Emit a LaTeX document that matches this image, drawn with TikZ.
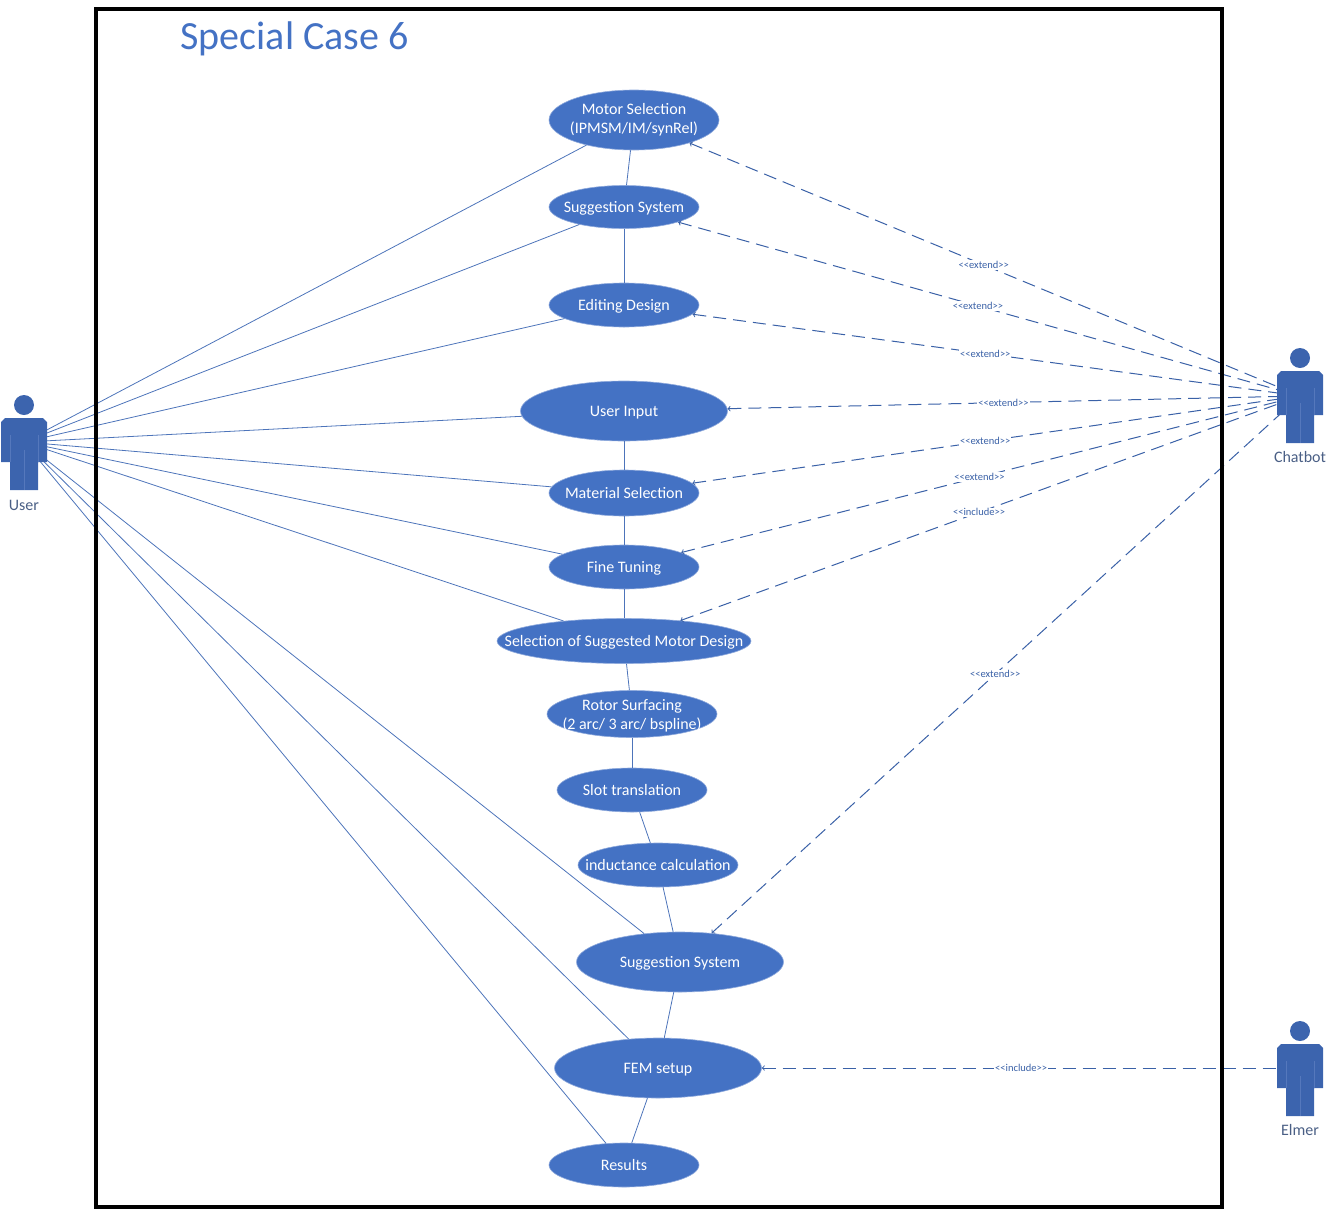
\documentclass[tikz,border=0pt]{standalone}
\usepackage{fontspec}
\setmainfont{Carlito}
\usetikzlibrary{shapes.geometric}
\definecolor{ucblue}{HTML}{4472C4}
\definecolor{ucedge}{HTML}{8FAADC}
\definecolor{actorblue}{HTML}{3C64AE}
\definecolor{actorline}{HTML}{5578BC}
\definecolor{actortext}{HTML}{4A5F85}
\tikzset{
  usecase/.style={ellipse, fill=ucblue, draw=ucedge, line width=0.6pt, inner sep=-60pt,
    text=white, align=center, font=\fontsize{16}{19}\selectfont},
  onerow/.style={usecase, text height=13pt, text depth=3pt},
  assoc/.style={draw=ucblue!85!gray, line width=0.8pt},
  relation/.style={draw=ucblue!85!black, line width=1pt, dash pattern=on 13pt off 7pt, <-, >=to},
  stereotype/.style={pos=0.482, fill=white, inner sep=1pt, text=ucblue!85!black,
    font=\fontsize{10.5}{12}\selectfont},
  actorname/.style={text=actortext, font=\fontsize{16}{19}\selectfont},
  actorfig/.pic={
    \fill[actorblue] (0,0) circle (10);
    \fill[actorblue] (-23,17) -- (-19,13) -- (19,13) -- (23,17) -- (23,57) -- (14,57)
      -- (14,85) -- (-14,85) -- (-14,57) -- (-23,57) -- cycle;
    \draw[actorline, line width=0.5pt] (-14,30) -- (-14,57) (14,30) -- (14,57) (0,45) -- (0,85);
  }
}
\begin{document}
\begin{tikzpicture}[x=1pt,y=-1pt]
      \useasboundingbox (0,0) rectangle (1335,1210);
      % use cases
      \node[usecase, minimum width=170pt, minimum height=60pt] (motor) at (634,120) {Motor Selection\\(IPMSM/IM/synRel)};
      \node[onerow, minimum width=150pt, minimum height=43pt] (suggestA) at (624,207) {Suggestion System};
      \node[onerow, minimum width=150pt, minimum height=44pt] (editing) at (624,305) {Editing Design};
      \node[onerow, minimum width=207pt, minimum height=60pt] (input) at (624,411) {User Input};
      \node[onerow, minimum width=150pt, minimum height=46pt] (material) at (624,493) {Material Selection};
      \node[onerow, minimum width=150pt, minimum height=44pt] (tuning) at (624,567) {Fine Tuning};
      \node[onerow, minimum width=254pt, minimum height=45pt] (selection) at (624,641) {Selection of Suggested Motor Design};
      \node[usecase, minimum width=170pt, minimum height=47pt] (rotor) at (632,714) {\rule{0pt}{15pt}Rotor Surfacing\\(2 arc/ 3 arc/ bspline)};
      \node[onerow, minimum width=150pt, minimum height=44pt] (slot) at (632,790) {Slot translation};
      \node[onerow, minimum width=160pt, minimum height=44pt] (inductance) at (658,865) {inductance calculation};
      \node[onerow, minimum width=207pt, minimum height=60pt] (suggestB) at (680,962) {Suggestion System};
      \node[onerow, minimum width=207pt, minimum height=60pt] (fem) at (658,1068) {FEM setup};
      \node[onerow, minimum width=150pt, minimum height=44pt] (results) at (624,1165) {Results};
      % actors, their lines run to the middle of the body
      \coordinate (user) at (24,442);
      \coordinate (chatbot) at (1300,396);
      \coordinate (elmer) at (1300,1068);
      \foreach \a/\b in {motor/suggestA, suggestA/editing, input/material, material/tuning,
        tuning/selection, selection/rotor, rotor/slot, slot/inductance, inductance/suggestB,
        suggestB/fem, fem/results}
        \draw[assoc] (\a) -- (\b);
      \foreach \b in {motor, suggestA, editing, input, material, tuning, selection, suggestB, fem, results}
        \draw[assoc] (user) -- (\b);
      \foreach \b/\t in {motor/extend, suggestA/extend, editing/extend, input/extend,
        material/extend, tuning/extend, selection/include, suggestB/extend}
        \draw[relation] (\b) -- node[stereotype] (label\b) {<{}<\t>{}>} (chatbot);
      \draw[relation] (fem) -- node[stereotype] (labelfem) {<{}<include>{}>} (elmer);
      % boundary
      \draw[black, line width=4pt] (96,8.5) rectangle (1221.5,1207);
      \node[text=ucblue, anchor=west, font=\fontsize{40}{46}\selectfont] (title) at (177,39) {Special Case 6};
      \pic at (24,405) {actorfig};
      \pic at (1300,358) {actorfig};
      \pic at (1300,1031) {actorfig};
      \node[actorname] (username) at (24,505) {User};
      \node[actorname] (chatbotname) at (1300,457) {Chatbot};
      \node[actorname] (elmername) at (1300,1130) {Elmer};
    \end{tikzpicture}
\end{document}
